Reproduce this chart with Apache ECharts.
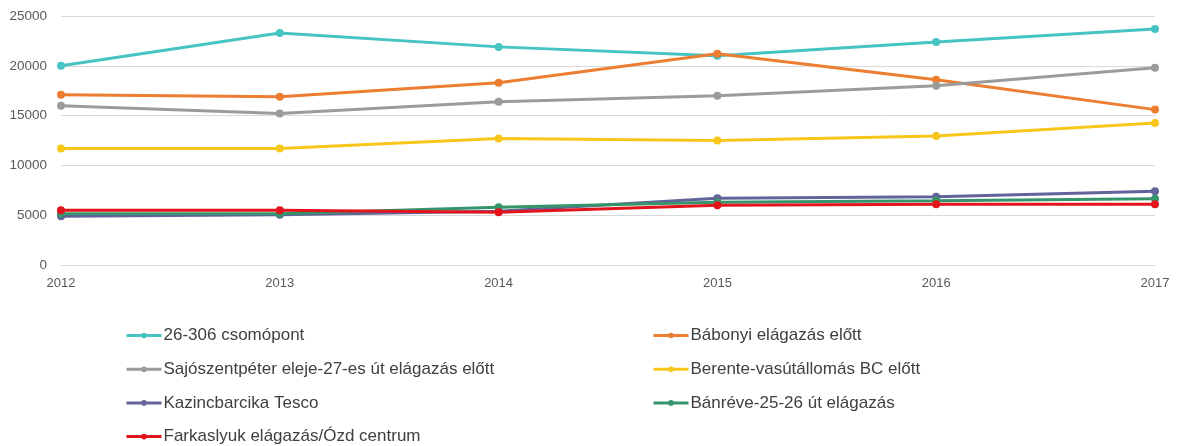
<!DOCTYPE html>
<html>
<head>
<meta charset="utf-8">
<script src="https://cdn.jsdelivr.net/npm/echarts@6/dist/echarts.min.js"></script>
<style>
  html, body { margin: 0; padding: 0; background: #fff; }
  #chart { width: 1178px; height: 446px; }
</style>
</head>
<body>
<div id="chart"></div>
<script>
// évek
var years = ['2012', '2013', '2014', '2015', '2016', '2017']

// forgalmi adatok mérőpontonként
var csomopont = [20000, 23300, 21900, 21000, 22400, 23700]
var babonyi = [17100, 16900, 18300, 21200, 18600, 15600]
var sajoszentpeter = [16000, 15200, 16400, 17000, 18000, 19800]
var berente = [11700, 11700, 12700, 12500, 12950, 14250]
var kazincbarcika = [4900, 5050, 5400, 6700, 6850, 7400]
var banreve = [5150, 5150, 5800, 6300, 6450, 6650]
var farkaslyuk = [5500, 5500, 5300, 6000, 6100, 6100]

var names = [
  '26-306 csomópont',
  'Bábonyi elágazás előtt',
  'Sajószentpéter eleje-27-es út elágazás előtt',
  'Berente-vasútállomás BC előtt',
  'Kazincbarcika Tesco',
  'Bánréve-25-26 út elágazás',
  'Farkaslyuk elágazás/Ózd centrum'
]
var colors = ['#46c3c3', '#ed7d31', '#9b9b9b', '#f8c61a', '#63639c', '#35956a', '#e3141b']
var values = [csomopont, babonyi, sajoszentpeter, berente, kazincbarcika, banreve, farkaslyuk]

var chart = echarts.init(document.getElementById('chart'))

var legendStyle = {
  orient: 'vertical',
  top: 327,
  height: 200,
  padding: 0,
  itemWidth: 35,
  itemHeight: 7,
  itemGap: 16.7,
  lineStyle: { width: 3 },
  textStyle: {
    fontFamily: 'Liberation Sans, Arial',
    fontSize: 17,
    lineHeight: 17,
    color: '#404040',
    padding: [0, 0, 0, -3]
  }
}

chart.setOption({
  animation: false,
  color: colors,
  grid: {
    left: 61,
    right: 23,
    top: 16,
    bottom: 181
  },
  legend: [
    Object.assign({}, legendStyle, { left: 125, data: [names[0], names[2], names[4], names[6]] }),
    Object.assign({}, legendStyle, { left: 652, data: [names[1], names[3], names[5]] })
  ],
  xAxis: {
    type: 'category',
    data: years,
    boundaryGap: false,
    axisTick: { show: false },
    axisLine: { lineStyle: { color: '#d9d9d9' } },
    axisLabel: {
      fontFamily: 'Liberation Sans, Arial',
      fontSize: 13,
      color: '#595959',
      margin: 12
    }
  },
  yAxis: {
    type: 'value',
    min: 0,
    max: 25000,
    interval: 5000,
    axisLabel: {
      fontFamily: 'Liberation Sans, Arial',
      fontSize: 13.5,
      color: '#595959',
      margin: 14,
      formatter: function (v) { return String(v) }
    },
    splitLine: { lineStyle: { color: '#d9d9d9' } }
  },
  series: names.map(function (name, i) {
    return {
      name: name,
      type: 'line',
      data: values[i],
      symbol: 'circle',
      symbolSize: 8,
      lineStyle: { width: 3 },
      z: i === 6 ? 3 : 2
    }
  })
})
</script>
</body>
</html>
